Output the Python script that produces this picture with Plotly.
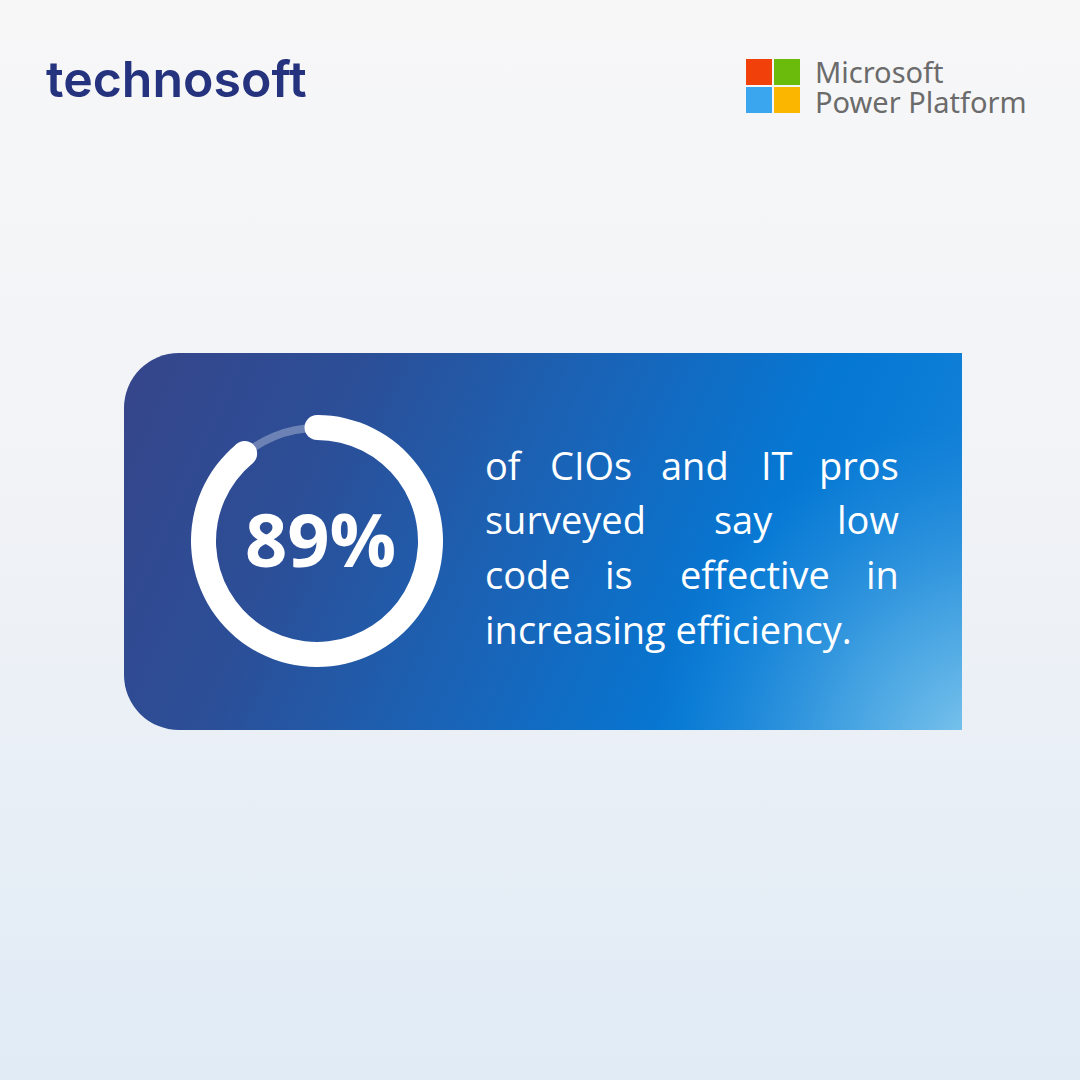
import base64
import math

import plotly.graph_objects as go

# ---- data ----
gauge_labels = ["Effective", "Remaining"]
gauge_values = [89, 11]
headline = "89%"
body_lines = [
    ["of", "CIOs", "and", "IT", "pros"],
    ["surveyed", "say", "low"],
    ["code", "is", "effective", "in"],
    ["increasing efficiency."],
]

# ---- layout constants (pixels, canvas is 1080 x 1080) ----
W = H = 1080
CX, CY = 317, 541          # gauge centre
R_OUT, R_IN = 126, 101     # ring radii
TRACK_OUT, TRACK_IN = 117, 109

# x positions for the justified words (left, centre or right anchored)
word_x = [
    [(483, "left"), (591, "center"), (695, "center"), (777, "center"), (901, "right")],
    [(483, "left"), (743, "center"), (901, "right")],
    [(483, "left"), (619, "center"), (755, "center"), (901, "right")],
    [(483, "left")],
]
line_baselines = [479, 533, 588, 643]


def dom(cx, cy, r):
    return dict(x=[(cx - r) / W, (cx + r) / W], y=[1 - (cy + r) / H, 1 - (cy - r) / H])


# background + gradient card as an inline svg
svg = f"""<svg xmlns='http://www.w3.org/2000/svg' width='{W}' height='{H}' viewBox='0 0 {W} {H}'>
<defs>
<linearGradient id='bg' x1='0' y1='0' x2='0' y2='1'>
<stop offset='0' stop-color='#f7f7f8'/><stop offset='0.45' stop-color='#f1f3f6'/>
<stop offset='1' stop-color='#e0ebf6'/></linearGradient>
<linearGradient id='card' gradientUnits='userSpaceOnUse' x1='124' y1='353' x2='962' y2='730'>
<stop offset='0' stop-color='#36458a'/><stop offset='0.25' stop-color='#2b4f98'/>
<stop offset='0.5' stop-color='#1865b9'/><stop offset='0.72' stop-color='#0578d4'/>
<stop offset='1' stop-color='#1a86da'/></linearGradient>
<radialGradient id='glow' gradientUnits='userSpaceOnUse' cx='990' cy='760' r='340'>
<stop offset='0' stop-color='#8ed0f0' stop-opacity='0.95'/>
<stop offset='0.45' stop-color='#6cbde9' stop-opacity='0.55'/>
<stop offset='1' stop-color='#3a9be0' stop-opacity='0'/></radialGradient>
<clipPath id='cc'><path d='M962,353 H179 A55,55 0 0 0 124,408 V675 A55,55 0 0 0 179,730 H962 Z'/></clipPath>
</defs>
<rect width='{W}' height='{H}' fill='url(#bg)'/>
<g clip-path='url(#cc)'>
<rect x='124' y='353' width='838' height='377' fill='url(#card)'/>
<rect x='124' y='353' width='838' height='377' fill='url(#glow)'/>
</g>
</svg>"""
bg_src = "data:image/svg+xml;base64," + base64.b64encode(svg.encode()).decode()

fig = go.Figure()

# faint full track
fig.add_trace(go.Pie(
    values=[sum(gauge_values)], labels=["track"], hole=TRACK_IN / TRACK_OUT,
    domain=dom(CX, CY, TRACK_OUT), marker=dict(colors=["rgba(255,255,255,0.3)"]),
    textinfo="none", sort=False, showlegend=False, hoverinfo="skip",
))

# value ring
fig.add_trace(go.Pie(
    values=gauge_values, labels=gauge_labels, hole=R_IN / R_OUT,
    domain=dom(CX, CY, R_OUT), direction="clockwise", rotation=0, sort=False,
    marker=dict(colors=["white", "rgba(0,0,0,0)"]),
    textinfo="none", showlegend=False, hoverinfo="skip",
))

# round caps at both ends of the value arc
r_mid = (R_OUT + R_IN) / 2
frac = gauge_values[0] / sum(gauge_values)
angles = [90, 90 - 360 * frac]
fig.add_trace(go.Scatter(
    x=[CX + r_mid * math.cos(math.radians(a)) for a in angles],
    y=[CY - r_mid * math.sin(math.radians(a)) for a in angles],
    mode="markers", marker=dict(size=R_OUT - R_IN, color="white", line=dict(width=0)),
    showlegend=False, hoverinfo="skip",
))

annotations = [
    dict(x=320, y=538, text=f"<b>{headline}</b>", xanchor="center", yanchor="middle",
         font=dict(family="Open Sans", size=74, color="white")),
    dict(x=44, y=79, text="technosoft", xanchor="left", yanchor="middle",
         font=dict(family="Inter", size=50, color="#25337f", weight=600)),
    dict(x=813, y=71, text="Microsoft", xanchor="left", yanchor="middle",
         font=dict(family="Noto Sans", size=29, color="#6b6b6b")),
    dict(x=813, y=101, text="Power Platform", xanchor="left", yanchor="middle",
         font=dict(family="Noto Sans", size=29, color="#6b6b6b")),
]
body_size = 38
for words, xs, base in zip(body_lines, word_x, line_baselines):
    for word, (x, anchor) in zip(words, xs):
        annotations.append(dict(
            x=x, y=base - 0.37 * body_size, text=word, xanchor=anchor, yanchor="middle",
            font=dict(family="Open Sans", size=body_size, color="white"),
        ))
for a in annotations:
    a.update(xref="x", yref="y", showarrow=False)

# microsoft logo squares
ms_colors = ["#f2400a", "#6bbb0c", "#3aa6f0", "#fbb600"]
shapes = []
for i, c in enumerate(ms_colors):
    x0 = 746 + (i % 2) * 28
    y0 = 59 + (i // 2) * 28
    shapes.append(dict(type="rect", xref="x", yref="y", x0=x0, x1=x0 + 26, y0=y0, y1=y0 + 26,
                       fillcolor=c, line=dict(width=0)))

fig.update_layout(
    width=W, height=H, margin=dict(l=0, r=0, t=0, b=0),
    paper_bgcolor="#f4f5f7", plot_bgcolor="rgba(0,0,0,0)",
    xaxis=dict(range=[0, W], visible=False, fixedrange=True),
    yaxis=dict(range=[H, 0], visible=False, fixedrange=True),
    images=[dict(source=bg_src, xref="paper", yref="paper", x=0, y=1, sizex=1, sizey=1,
                 xanchor="left", yanchor="top", sizing="stretch", layer="below")],
    annotations=annotations, shapes=shapes, hovermode=False,
)

fig.write_html(
    "out.html",
    config={"displayModeBar": False},
    post_script="document.body.style.margin='0';document.body.style.overflow='hidden';",
)
